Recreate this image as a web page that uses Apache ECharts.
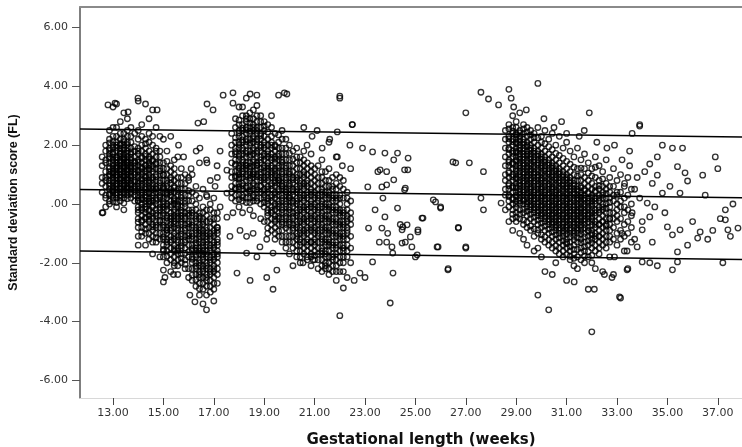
<!DOCTYPE html>
<html>
<head>
<meta charset="utf-8">
<script src="https://cdn.jsdelivr.net/npm/echarts@6/dist/echarts.min.js"></script>
<style>
html,body{margin:0;padding:0;background:#fff;}
#chart{width:742px;height:447px;}
</style>
</head>
<body>
<div id="chart"></div>
<script>
// Tick labels
const xTicks = [13, 15, 17, 19, 21, 23, 25, 27, 29, 31, 33, 35, 37];
const yTicks = [-6, -4, -2, 0, 2, 4, 6];

// Reference lines (mean and +/- 2 SD), endpoints at axis extremes
const lineUpper = [[11.69, 2.55], [37.96, 2.28]];
const lineMid = [[11.69, 0.49], [37.96, 0.21]];
const lineLower = [[11.69, -1.60], [37.96, -1.89]];

// Columns: [gestational week, [SD scores]]
const clusterA = [
  [12.57, [0.9, 1.3, 0.4, -0.3, 1.6, 0.7]],
  [12.71, [1.8, 1.1, 0.6, 0.2, 1.4, 2.0, 0.9, 0.3, 1.5, -0.1, 0.8]],
  [12.86, [2.2, 1.7, 1.2, 0.8, 0.5, 0.1, 1.0, 1.9, 1.4, 0.3, 0.7, 1.6, 2.5, 0.0, 1.1]],
  [13.00, [3.3, 2.3, 1.9, 1.5, 1.2, 0.9, 0.6, 0.3, 1.7, 1.0, 0.4, 1.3, 2.0, 0.8, 0.2, 1.6, 1.1, 0.5]],
  [13.14, [3.4, 2.6, 2.1, 1.8, 1.4, 1.1, 0.8, 0.5, 0.2, 1.6, 1.3, 0.9, 0.6, 2.0, 1.0, 0.3, 1.5, 1.2, 0.7, -0.1]],
  [13.29, [2.8, 2.2, 1.9, 1.6, 1.3, 1.0, 0.7, 0.4, 0.1, 1.8, 1.4, 1.1, 0.8, 0.5, 2.0, 1.2, 0.9, 0.6, 1.5, 0.3, 1.7]],
  [13.43, [3.1, 2.4, 2.0, 1.7, 1.4, 1.1, 0.8, 0.5, 0.2, 1.9, 1.5, 1.2, 0.9, 0.6, 2.2, 1.3, 1.0, 0.7, 1.6, 0.4, -0.2]],
  [13.57, [2.9, 2.3, 1.9, 1.6, 1.3, 1.0, 0.7, 0.4, 1.8, 1.4, 1.1, 0.8, 0.5, 2.1, 1.2, 0.9, 0.6, 1.5, 0.3]],
  [13.71, [2.6, 2.1, 1.7, 1.4, 1.1, 0.8, 0.5, 0.2, 1.5, 1.2, 0.9, 0.6, 1.9, 1.0, 0.4, 1.3, 0.7]],
  [13.86, [2.4, 1.8, 1.4, 1.0, 0.6, 0.3, 1.2, 0.8, 1.6, 0.1, 0.5, 1.3]]
];
const clusterB = [
  [14.00, [3.5, 2.5, 1.9, 1.5, 1.1, 0.7, 0.3, -0.1, -0.5, 1.3, 0.9, 0.5, 0.1, -0.3, 1.7, 0.6, 0.2, 1.0, -0.8]],
  [14.14, [2.7, 2.0, 1.6, 1.2, 0.8, 0.4, 0.0, -0.4, -0.8, 1.4, 1.0, 0.6, 0.2, -0.2, 1.8, 0.7, 0.3, -0.6, 1.1, -1.1]],
  [14.29, [3.4, 2.2, 1.7, 1.3, 0.9, 0.5, 0.1, -0.3, -0.7, 1.5, 1.1, 0.7, 0.3, -0.1, -0.5, 1.9, 0.8, 0.4, 0.0, -1.0, 1.2, -1.4]],
  [14.43, [2.9, 2.1, 1.6, 1.2, 0.8, 0.4, 0.0, -0.4, -0.8, 1.4, 1.0, 0.6, 0.2, -0.2, -0.6, 1.8, 0.9, 0.5, 0.1, -1.2, 1.3]],
  [14.57, [3.2, 2.0, 1.5, 1.1, 0.7, 0.3, -0.1, -0.5, -0.9, 1.3, 0.9, 0.5, 0.1, -0.3, -0.7, 1.7, 0.6, 0.2, -1.1, -1.7]],
  [14.71, [2.6, 1.8, 1.4, 1.0, 0.6, 0.2, -0.2, -0.6, -1.0, 1.2, 0.8, 0.4, 0.0, -0.4, 1.6, 0.5, -0.8, -1.3]],
  [14.86, [2.3, 1.6, 1.2, 0.8, 0.4, 0.0, -0.4, -0.8, 1.0, 0.6, 0.2, -0.2, -0.6, 1.4, 0.3, -1.2, -1.8]]
];
const clusterC = [
  [15.00, [2.2, 1.4, 1.0, 0.6, 0.2, -0.2, -0.6, -1.0, -1.4, -1.8, 1.2, 0.8, 0.4, 0.0, -0.4, -0.8, -1.2, 0.5, -0.1, -1.6]],
  [15.14, [1.8, 1.2, 0.8, 0.4, 0.0, -0.4, -0.8, -1.2, -1.6, -2.0, 1.0, 0.6, 0.2, -0.2, -0.6, -1.0, -1.4, 0.3, -0.9]],
  [15.29, [2.3, 1.3, 0.9, 0.5, 0.1, -0.3, -0.7, -1.1, -1.5, -1.9, 1.1, 0.7, 0.3, -0.1, -0.5, -0.9, -1.3, 0.4, -0.6, -2.3]],
  [15.43, [1.5, 1.0, 0.6, 0.2, -0.2, -0.6, -1.0, -1.4, -1.8, 0.8, 0.4, 0.0, -0.4, -0.8, -1.2, -1.6, 0.1, -0.5, -2.1]],
  [15.57, [1.6, 0.9, 0.5, 0.1, -0.3, -0.7, -1.1, -1.5, -1.9, 0.7, 0.3, -0.1, -0.5, -0.9, -1.3, -1.7, 0.0, -2.4]],
  [15.71, [1.2, 0.7, 0.3, -0.1, -0.5, -0.9, -1.3, -1.7, 0.5, 0.1, -0.3, -0.7, -1.1, -1.5, -2.0, -0.4]],
  [15.86, [1.0, 0.5, 0.1, -0.3, -0.7, -1.1, -1.5, -1.9, 0.3, -0.1, -0.5, -0.9, -1.3, -2.2]],
  [16.00, [0.8, 0.3, -0.2, -0.6, -1.0, -1.4, -1.8, 0.1, -0.4, -0.8, -1.2, -2.5]]
];
const clusterD = [
  [16.14, [1.0, 0.4, -0.2, -0.6, -1.0, -1.4, -1.8, -2.2, -0.8, -1.2, -1.6, -2.0, -0.4, -2.6, 0.1]],
  [16.29, [0.6, 0.0, -0.4, -0.8, -1.2, -1.6, -2.0, -2.4, -0.6, -1.0, -1.4, -1.8, -2.2, -2.8, -0.2, -1.5]],
  [16.43, [1.4, 0.2, -0.3, -0.7, -1.1, -1.5, -1.9, -2.3, -2.7, -0.9, -1.3, -1.7, -2.1, -2.5, -0.5, -3.1, -1.0]],
  [16.57, [0.5, -0.1, -0.5, -0.9, -1.3, -1.7, -2.1, -2.5, -0.7, -1.1, -1.5, -1.9, -2.3, -2.9, -0.3, -3.4, -1.6]],
  [16.71, [1.5, 0.3, -0.4, -0.8, -1.2, -1.6, -2.0, -2.4, -2.8, -1.0, -1.4, -1.8, -2.2, -0.6, -2.6, -3.6, -1.1]],
  [16.86, [0.8, 0.0, -0.6, -1.0, -1.4, -1.8, -2.2, -2.6, -0.8, -1.2, -1.6, -2.0, -2.4, -3.0, -0.2]],
  [17.00, [0.2, -0.5, -0.9, -1.3, -1.7, -2.1, -2.5, -1.1, -1.5, -1.9, -2.3, -2.9, -0.7, -3.3]],
  [17.14, [0.9, -0.3, -0.8, -1.2, -1.6, -2.0, -2.4, -1.0, -1.4, -1.8, -2.7, -0.5]]
];
const clusterE = [
  [17.71, [2.0, 1.4, 0.9, 0.4, 1.7, 1.1, 0.6, 2.4, 0.2]],
  [17.86, [2.6, 2.1, 1.7, 1.3, 0.9, 0.5, 0.1, 1.5, 1.1, 0.7, 1.9, 0.3, 2.9]],
  [18.00, [3.3, 2.7, 2.3, 1.9, 1.5, 1.1, 0.7, 0.3, 2.1, 1.7, 1.3, 0.9, 0.5, 2.5, 1.0, -0.1]],
  [18.14, [3.0, 2.5, 2.1, 1.7, 1.3, 0.9, 0.5, 0.1, 2.3, 1.9, 1.5, 1.1, 0.7, 2.7, 1.2, 0.3, -0.3]],
  [18.29, [3.6, 2.8, 2.4, 2.0, 1.6, 1.2, 0.8, 0.4, 2.6, 2.2, 1.8, 1.4, 1.0, 0.6, 3.0, 1.3, 0.2]],
  [18.43, [3.1, 2.6, 2.2, 1.8, 1.4, 1.0, 0.6, 0.2, 2.4, 2.0, 1.6, 1.2, 0.8, 2.9, 1.1, 0.4, -0.2]],
  [18.57, [2.9, 2.5, 2.1, 1.7, 1.3, 0.9, 0.5, 0.1, 2.3, 1.9, 1.5, 1.1, 0.7, 2.7, 1.0, 0.3, -0.4]],
  [18.71, [3.7, 3.0, 2.6, 2.2, 1.8, 1.4, 1.0, 0.6, 0.2, 2.4, 2.0, 1.6, 1.2, 0.8, 2.8, 1.3, 0.4]],
  [18.86, [3.0, 2.4, 2.0, 1.6, 1.2, 0.8, 0.4, 0.0, 2.2, 1.8, 1.4, 1.0, 0.6, 2.6, 0.9, -0.5]],
  [19.00, [2.8, 2.3, 1.9, 1.5, 1.1, 0.7, 0.3, -0.1, 2.1, 1.7, 1.3, 0.9, 0.5, 2.5, 0.2, -0.6]]
];
const clusterF = [
  [19.14, [2.7, 2.2, 1.8, 1.4, 1.0, 0.6, 0.2, -0.2, -0.6, 2.0, 1.6, 1.2, 0.8, 0.4, 0.0, -0.4, 1.1, -1.0]],
  [19.29, [3.0, 2.3, 1.9, 1.5, 1.1, 0.7, 0.3, -0.1, -0.5, 2.1, 1.7, 1.3, 0.9, 0.5, 0.1, -0.3, 1.0, -0.9]],
  [19.43, [2.4, 2.0, 1.6, 1.2, 0.8, 0.4, 0.0, -0.4, -0.8, 1.8, 1.4, 1.0, 0.6, 0.2, -0.2, -0.6, 0.9, -1.2]],
  [19.57, [3.7, 2.1, 1.7, 1.3, 0.9, 0.5, 0.1, -0.3, -0.7, 1.9, 1.5, 1.1, 0.7, 0.3, -0.1, -0.5, 0.8, -1.1]],
  [19.71, [2.5, 1.9, 1.5, 1.1, 0.7, 0.3, -0.1, -0.5, -0.9, 1.7, 1.3, 0.9, 0.5, 0.1, -0.3, -0.7, 0.6, -1.3]],
  [19.86, [2.2, 1.7, 1.3, 0.9, 0.5, 0.1, -0.3, -0.7, -1.1, 1.5, 1.1, 0.7, 0.3, -0.1, -0.5, 0.4, -1.5]],
  [20.00, [2.0, 1.5, 1.1, 0.7, 0.3, -0.1, -0.5, -0.9, -1.3, 1.3, 0.9, 0.5, 0.1, -0.3, -0.7, 0.2, -1.7]],
  [20.14, [1.8, 1.3, 0.9, 0.5, 0.1, -0.3, -0.7, -1.1, 1.1, 0.7, 0.3, -0.1, -0.5, -0.9, -1.5]]
];
const clusterG = [
  [20.29, [1.9, 1.4, 1.0, 0.6, 0.2, -0.2, -0.6, -1.0, -1.4, 1.2, 0.8, 0.4, 0.0, -0.4, -0.8, -1.2, -1.8]],
  [20.43, [1.6, 1.2, 0.8, 0.4, 0.0, -0.4, -0.8, -1.2, -1.6, 1.0, 0.6, 0.2, -0.2, -0.6, -1.0, -1.4, -2.0]],
  [20.57, [2.6, 1.5, 1.1, 0.7, 0.3, -0.1, -0.5, -0.9, -1.3, 1.3, 0.9, 0.5, 0.1, -0.3, -0.7, -1.1, -1.7]],
  [20.71, [1.4, 1.0, 0.6, 0.2, -0.2, -0.6, -1.0, -1.4, -1.8, 0.8, 0.4, 0.0, -0.4, -0.8, -1.2, -1.6]],
  [20.86, [1.7, 1.1, 0.7, 0.3, -0.1, -0.5, -0.9, -1.3, -1.7, 0.9, 0.5, 0.1, -0.3, -0.7, -1.1, -1.5, -2.1]],
  [21.00, [1.2, 0.8, 0.4, 0.0, -0.4, -0.8, -1.2, -1.6, 0.6, 0.2, -0.2, -0.6, -1.0, -1.4, -1.9]],
  [21.14, [1.3, 0.7, 0.3, -0.1, -0.5, -0.9, -1.3, -1.7, 0.5, 0.1, -0.3, -0.7, -1.1, -2.2]]
];
const clusterH = [
  [21.29, [1.5, 0.9, 0.5, 0.1, -0.3, -0.7, -1.1, -1.5, -1.9, 0.7, 0.3, -0.1, -0.5, -0.9, -1.3, -1.7, -2.3]],
  [21.43, [1.1, 0.6, 0.2, -0.2, -0.6, -1.0, -1.4, -1.8, -2.2, 0.4, 0.0, -0.4, -0.8, -1.2, -1.6, -2.0]],
  [21.57, [2.1, 0.8, 0.4, 0.0, -0.4, -0.8, -1.2, -1.6, -2.0, 0.6, 0.2, -0.2, -0.6, -1.0, -1.4, -2.4]],
  [21.71, [0.9, 0.5, 0.1, -0.3, -0.7, -1.1, -1.5, -1.9, 0.3, -0.1, -0.5, -0.9, -1.3, -1.7, -2.1]],
  [21.86, [1.6, 0.7, 0.3, -0.1, -0.5, -0.9, -1.3, -1.7, -2.1, 0.5, 0.1, -0.3, -0.7, -1.1, -1.5, -2.6]],
  [22.00, [3.6, 0.6, 0.2, -0.2, -0.6, -1.0, -1.4, -1.8, 0.0, -0.4, -0.8, -1.2, -2.0, -3.8]],
  [22.14, [0.8, 0.2, -0.2, -0.6, -1.0, -1.4, -1.8, -0.4, -0.8, -1.2, -1.6, -2.3]],
  [22.29, [0.4, 0.0, -0.4, -0.8, -1.2, -1.6, -0.2, -0.6, -1.0, -2.5]],
  [22.43, [1.2, 0.1, -0.3, -0.7, -1.1, -1.5, -2.0, -0.5]]
];
const clusterLate = [
  [28.57, [2.5, 1.9, 1.3, 0.8, 0.3, 1.6, 1.0, 0.5, 2.2, -0.2]],
  [28.71, [3.9, 2.7, 2.3, 1.9, 1.5, 1.1, 0.7, 0.3, -0.1, 2.1, 1.7, 1.3, 0.9, 0.5, 0.1, -0.6]],
  [28.86, [3.0, 2.6, 2.2, 1.8, 1.4, 1.0, 0.6, 0.2, -0.2, 2.4, 2.0, 1.6, 1.2, 0.8, 0.4, 0.0, -0.5, -0.9]],
  [29.00, [2.8, 2.4, 2.1, 1.8, 1.5, 1.2, 0.9, 0.6, 0.3, 0.0, -0.3, 2.6, 2.2, 1.9, 1.6, 1.3, 1.0, 0.7, 0.4, 0.1, -0.6]],
  [29.14, [3.1, 2.5, 2.2, 1.9, 1.6, 1.3, 1.0, 0.7, 0.4, 0.1, -0.2, 2.3, 2.0, 1.7, 1.4, 1.1, 0.8, 0.5, 0.2, -0.5, -1.0]],
  [29.29, [2.7, 2.4, 2.1, 1.8, 1.5, 1.2, 0.9, 0.6, 0.3, 0.0, -0.3, -0.7, 2.2, 1.9, 1.6, 1.3, 1.0, 0.7, 0.4, 0.1, -1.2]],
  [29.43, [2.6, 2.3, 2.0, 1.7, 1.4, 1.1, 0.8, 0.5, 0.2, -0.1, -0.4, 2.1, 1.8, 1.5, 1.2, 0.9, 0.6, 0.3, 0.0, -0.8, -1.4]],
  [29.57, [2.5, 2.2, 1.9, 1.6, 1.3, 1.0, 0.7, 0.4, 0.1, -0.2, -0.5, 2.0, 1.7, 1.4, 1.1, 0.8, 0.5, 0.2, -0.1, -0.9]],
  [29.71, [2.4, 2.1, 1.8, 1.5, 1.2, 0.9, 0.6, 0.3, 0.0, -0.3, -0.6, 1.9, 1.6, 1.3, 1.0, 0.7, 0.4, 0.1, -0.2, -1.1, -1.6]],
  [29.86, [4.1, 2.6, 2.0, 1.7, 1.4, 1.1, 0.8, 0.5, 0.2, -0.1, -0.4, -0.7, 1.8, 1.5, 1.2, 0.9, 0.6, 0.3, 0.0, -0.3, -1.0, -1.5, -3.1]],
  [30.00, [2.3, 1.9, 1.6, 1.3, 1.0, 0.7, 0.4, 0.1, -0.2, -0.5, -0.8, 1.7, 1.4, 1.1, 0.8, 0.5, 0.2, -0.1, -0.4, -1.2, -1.8]],
  [30.14, [2.5, 1.8, 1.5, 1.2, 0.9, 0.6, 0.3, 0.0, -0.3, -0.6, -0.9, 1.6, 1.3, 1.0, 0.7, 0.4, 0.1, -0.2, -0.5, -1.3, -2.3]],
  [30.29, [2.2, 1.7, 1.4, 1.1, 0.8, 0.5, 0.2, -0.1, -0.4, -0.7, -1.0, 1.5, 1.2, 0.9, 0.6, 0.3, 0.0, -0.3, -0.6, -1.4, -3.6]],
  [30.43, [2.4, 1.6, 1.3, 1.0, 0.7, 0.4, 0.1, -0.2, -0.5, -0.8, -1.1, 1.4, 1.1, 0.8, 0.5, 0.2, -0.1, -0.4, -0.7, -1.5, -2.4]],
  [30.57, [2.0, 1.5, 1.2, 0.9, 0.6, 0.3, 0.0, -0.3, -0.6, -0.9, -1.2, 1.3, 1.0, 0.7, 0.4, 0.1, -0.2, -0.5, -0.8, -1.6, -2.0]],
  [30.71, [2.3, 1.4, 1.1, 0.8, 0.5, 0.2, -0.1, -0.4, -0.7, -1.0, -1.3, 1.2, 0.9, 0.6, 0.3, 0.0, -0.3, -0.6, -0.9, -1.7]],
  [30.86, [1.9, 1.3, 1.0, 0.7, 0.4, 0.1, -0.2, -0.5, -0.8, -1.1, -1.4, 1.1, 0.8, 0.5, 0.2, -0.1, -0.4, -0.7, -1.0, -1.8]],
  [31.00, [2.1, 1.2, 0.9, 0.6, 0.3, 0.0, -0.3, -0.6, -0.9, -1.2, -1.5, 1.0, 0.7, 0.4, 0.1, -0.2, -0.5, -0.8, -1.3, -2.6]],
  [31.14, [1.8, 1.1, 0.8, 0.5, 0.2, -0.1, -0.4, -0.7, -1.0, -1.3, -1.6, 0.9, 0.6, 0.3, 0.0, -0.3, -0.6, -0.9, -1.9]],
  [31.29, [1.6, 1.0, 0.7, 0.4, 0.1, -0.2, -0.5, -0.8, -1.1, -1.4, -1.7, 0.8, 0.5, 0.2, -0.1, -0.4, -0.7, -1.0, -2.1]],
  [31.43, [1.9, 1.2, 0.8, 0.5, 0.2, -0.1, -0.4, -0.7, -1.0, -1.3, -1.8, 0.6, 0.3, 0.0, -0.3, -0.6, -0.9, -2.2]],
  [31.57, [1.5, 1.0, 0.6, 0.3, 0.0, -0.3, -0.6, -0.9, -1.2, -1.5, 0.8, 0.4, 0.1, -0.2, -0.5, -0.8, -1.9]],
  [31.71, [1.7, 0.9, 0.5, 0.2, -0.1, -0.4, -0.7, -1.0, -1.3, -1.6, 0.7, 0.3, 0.0, -0.3, -0.6, -2.0]],
  [31.86, [1.4, 0.8, 0.4, 0.1, -0.2, -0.5, -0.8, -1.1, -1.4, 0.6, 0.2, -0.1, -0.4, -0.9, -1.8, -2.9]],
  [32.00, [1.2, 0.7, 0.3, 0.0, -0.3, -0.6, -0.9, -1.2, -1.5, 0.5, 0.1, -0.2, -0.5, -1.0, -2.0, -4.35]],
  [32.14, [1.6, 0.9, 0.4, 0.0, -0.4, -0.8, -1.2, -1.6, 0.6, 0.2, -0.2, -0.6, -1.0, -2.2]],
  [32.29, [1.3, 0.8, 0.3, -0.1, -0.5, -0.9, -1.3, 0.5, 0.1, -0.3, -0.7, -1.1, -1.7]],
  [32.43, [1.1, 0.6, 0.2, -0.2, -0.6, -1.0, -1.4, 0.4, 0.0, -0.4, -0.8, -2.3]],
  [32.57, [1.5, 0.7, 0.2, -0.3, -0.7, -1.1, 0.5, 0.0, -0.5, -0.9, -1.5]],
  [32.71, [0.9, 0.4, -0.1, -0.5, -0.9, -1.3, 0.2, -0.3, -0.7, -1.8]],
  [32.86, [1.2, 0.6, 0.1, -0.3, -0.8, -1.2, 0.3, -0.5, -2.4]],
  [33.00, [0.8, 0.3, -0.2, -0.6, -1.0, 0.0, -0.4, -1.4]],
  [33.14, [1.0, 0.4, -0.1, -0.5, -0.9, 0.1, -1.2, -3.2]],
  [33.29, [0.6, 0.2, -0.3, -0.7, -1.1, -0.1, -1.6]],
  [33.43, [0.9, 0.3, -0.2, -0.6, -1.0, -2.2]],
  [33.57, [0.5, 0.0, -0.4, -0.8, -1.3]]
];

// Extra points inside the dense cores: [gestational week, [SD scores]]
const coreEarly = [
  [12.86, [0.35, 0.62, 0.95, 1.27, 1.55, 1.82, 2.08]],
  [13.00, [0.08, 0.45, 0.72, 1.05, 1.38, 1.76, 2.12, 2.6]],
  [13.14, [0.05, 0.38, 0.67, 0.98, 1.24, 1.57, 1.92, 2.3]],
  [13.29, [0.22, 0.52, 0.85, 1.17, 1.45, 1.72, 2.05, 2.4]],
  [13.43, [0.03, 0.32, 0.63, 0.95, 1.25, 1.55, 1.83, 2.12]],
  [13.57, [0.18, 0.55, 0.83, 1.16, 1.43, 1.72, 2.02, 2.5]],
  [13.71, [0.33, 0.66, 0.95, 1.25, 1.58, 1.77, 2.3]],
  [13.86, [0.42, 0.74, 1.08, 1.45, 1.95]],
  [14.00, [-0.62, -0.2, 0.12, 0.42, 0.78, 1.15, 1.42, 1.8, 2.2]],
  [14.14, [-0.95, -0.55, -0.12, 0.15, 0.48, 0.86, 1.25, 1.55, 2.3]],
  [14.29, [-0.85, -0.45, -0.18, 0.22, 0.58, 0.95, 1.33, 1.62, 2.05]],
  [14.43, [-1.0, -0.52, -0.25, 0.08, 0.35, 0.72, 1.15, 1.52, 2.4]],
  [14.57, [-1.3, -0.78, -0.42, -0.05, 0.38, 0.82, 1.2, 1.45, 2.3]],
  [14.71, [-1.15, -0.72, -0.32, 0.12, 0.52, 0.92, 1.35, 1.9]],
  [14.86, [-1.0, -0.55, -0.12, 0.25, 0.72, 1.12, 1.8]],
  [15.00, [-1.55, -1.12, -0.72, -0.32, 0.08, 0.55, 0.98]],
  [15.14, [-1.78, -1.3, -0.88, -0.48, -0.08, 0.35, 0.7, 1.45]],
  [15.29, [-1.7, -1.22, -0.82, -0.42, -0.02, 0.42, 0.82]],
  [15.43, [-2.0, -1.52, -1.1, -0.68, -0.28, 0.15, 0.55, 1.2]],
  [15.57, [-2.1, -1.6, -1.22, -0.82, -0.42, -0.05, 0.42]],
  [15.71, [-1.85, -1.42, -1.02, -0.62, -0.22, 0.22, 0.9]],
  [15.86, [-2.05, -1.68, -1.22, -0.82, -0.42, 0.02, 0.7]],
  [16.00, [-2.2, -1.62, -1.08, -0.68, -0.32, 0.45]],
  [16.14, [-2.42, -1.88, -1.52, -1.1, -0.72, -0.3]],
  [16.29, [-2.58, -2.12, -1.72, -1.32, -0.9, -0.5, 0.3]],
  [16.43, [-2.88, -2.4, -2.0, -1.6, -1.2, -0.8, -0.42]],
  [16.57, [-2.7, -2.2, -1.8, -1.4, -1.0, -0.6]],
  [16.71, [-3.1, -2.5, -2.1, -1.7, -1.3, -0.9, -0.2]],
  [16.86, [-2.8, -2.3, -1.9, -1.5, -1.1, -0.5]],
  [17.00, [-2.7, -2.2, -1.8, -1.4, -1.0, -0.3]],
  [17.14, [-2.2, -1.7, -1.3, -0.9]]
];
const coreMid = [
  [17.86, [0.55, 0.95, 1.35, 1.78, 2.25]],
  [18.00, [0.15, 0.58, 0.85, 1.22, 1.62, 2.02, 2.42, 2.85]],
  [18.14, [0.22, 0.62, 1.02, 1.42, 1.82, 2.18, 2.58, 3.3]],
  [18.29, [0.05, 0.55, 0.92, 1.32, 1.72, 2.12, 2.52, 2.9]],
  [18.43, [0.05, 0.45, 0.88, 1.28, 1.68, 2.08, 2.48, 2.75]],
  [18.57, [0.22, 0.62, 1.02, 1.42, 1.82, 2.22, 2.6, 3.2]],
  [18.71, [0.1, 0.48, 0.92, 1.32, 1.72, 2.12, 2.5, 3.35]],
  [18.86, [0.2, 0.62, 1.08, 1.5, 1.92, 2.32, 2.8]],
  [19.00, [0.05, 0.42, 0.82, 1.22, 1.62, 2.0, 2.65]],
  [19.14, [-0.82, -0.3, 0.1, 0.5, 0.9, 1.3, 1.7, 2.45]],
  [19.29, [-0.7, -0.22, 0.22, 0.62, 1.22, 1.58, 2.0, 2.6]],
  [19.43, [-1.0, -0.52, -0.08, 0.32, 0.72, 1.12, 1.52, 1.95]],
  [19.57, [-0.92, -0.42, 0.0, 0.42, 0.82, 1.22, 1.62, 2.35]],
  [19.71, [-1.1, -0.62, -0.2, 0.2, 0.62, 1.02, 1.42, 2.2]],
  [19.86, [-1.3, -0.82, -0.42, 0.0, 0.42, 0.82, 1.22, 1.9]],
  [20.00, [-1.1, -0.62, -0.2, 0.22, 0.62, 1.02, 1.72]],
  [20.14, [-1.3, -0.82, -0.42, 0.02, 0.42, 0.82, 1.52]],
  [20.29, [-1.6, -1.1, -0.7, -0.3, 0.1, 0.5, 0.9, 1.6]],
  [20.43, [-1.8, -1.3, -0.9, -0.5, -0.1, 0.3, 0.7, 1.4]],
  [20.57, [-1.5, -1.0, -0.6, -0.2, 0.2, 0.6, 1.0, 1.8]],
  [20.71, [-1.9, -1.3, -0.9, -0.5, -0.1, 0.3, 0.7, 1.2]],
  [20.86, [-1.8, -1.3, -0.8, -0.4, 0.0, 0.4, 1.3]],
  [21.00, [-1.75, -1.3, -0.9, -0.5, -0.1, 0.3, 1.0]],
  [21.14, [-1.9, -1.5, -1.0, -0.6, -0.2, 0.2, 0.9]],
  [21.29, [-2.1, -1.6, -1.2, -0.8, -0.4, 0.0, 0.4, 1.1]],
  [21.43, [-2.1, -1.7, -1.3, -0.9, -0.5, -0.1, 0.3, 0.8]],
  [21.57, [-2.2, -1.8, -1.3, -0.9, -0.5, -0.1, 0.3, 1.2]],
  [21.71, [-2.3, -1.8, -1.4, -1.0, -0.6, -0.2, 0.2, 0.6]],
  [21.86, [-2.3, -1.9, -1.4, -1.0, -0.6, -0.2, 0.2, 1.0]],
  [22.00, [-2.3, -1.6, -1.1, -0.7, -0.3, 0.3, 0.9]],
  [22.14, [-2.0, -1.5, -1.1, -0.7, -0.3, 0.5]],
  [22.29, [-1.8, -1.4, -0.9, -0.5, 0.2]]
];
const coreLate = [
  [28.71, [0.25, 0.62, 1.05, 1.42, 1.85, 2.22, 2.55]],
  [28.86, [-0.35, 0.15, 0.55, 0.92, 1.35, 1.72, 2.12, 2.48]],
  [29.00, [-0.45, -0.12, 0.25, 0.55, 0.85, 1.12, 1.45, 1.75, 2.05, 2.35]],
  [29.14, [-0.35, 0.02, 0.32, 0.62, 0.92, 1.22, 1.52, 1.82, 2.12, 2.42]],
  [29.29, [-0.55, -0.18, 0.15, 0.48, 0.78, 1.08, 1.38, 1.7, 2.02, 2.55]],
  [29.43, [-0.62, -0.25, 0.08, 0.38, 0.68, 0.98, 1.28, 1.62, 1.95, 2.45]],
  [29.57, [-0.75, -0.35, -0.02, 0.28, 0.58, 0.88, 1.18, 1.52, 1.82, 2.35]],
  [29.71, [-0.85, -0.45, -0.12, 0.18, 0.48, 0.78, 1.08, 1.42, 1.72, 2.25]],
  [29.86, [-0.88, -0.55, -0.22, 0.08, 0.38, 0.68, 0.98, 1.32, 1.62, 2.25]],
  [30.00, [-1.05, -0.65, -0.32, -0.02, 0.28, 0.58, 0.88, 1.22, 1.52, 2.1]],
  [30.14, [-1.12, -0.75, -0.42, -0.12, 0.18, 0.48, 0.78, 1.12, 1.42, 2.05]],
  [30.29, [-1.22, -0.85, -0.52, -0.22, 0.08, 0.38, 0.68, 1.02, 1.32, 1.95]],
  [30.43, [-1.3, -0.95, -0.62, -0.32, -0.02, 0.28, 0.58, 0.92, 1.22, 1.85]],
  [30.57, [-1.42, -1.05, -0.72, -0.42, -0.12, 0.18, 0.48, 0.82, 1.12, 1.72]],
  [30.71, [-1.5, -1.15, -0.82, -0.52, -0.22, 0.08, 0.38, 0.72, 1.02, 1.65]],
  [30.86, [-1.6, -1.25, -0.92, -0.62, -0.32, -0.02, 0.28, 0.62, 0.92, 1.55]],
  [31.00, [-1.72, -1.35, -1.02, -0.72, -0.42, -0.12, 0.18, 0.52, 0.82, 1.45]],
  [31.14, [-1.78, -1.45, -1.12, -0.82, -0.52, -0.22, 0.08, 0.42, 0.72, 1.35]],
  [31.29, [-1.85, -1.55, -1.22, -0.92, -0.62, -0.32, -0.02, 0.32, 0.62, 1.25]],
  [31.43, [-1.55, -1.15, -0.82, -0.52, -0.22, 0.12, 0.42, 0.95]],
  [31.57, [-1.65, -1.32, -1.02, -0.72, -0.42, -0.12, 0.22, 0.55, 1.22]],
  [31.71, [-1.78, -1.45, -1.12, -0.82, -0.52, -0.22, 0.12, 0.45, 1.2]],
  [31.86, [-1.62, -1.25, -0.92, -0.62, -0.32, 0.02, 0.35, 1.05]],
  [32.00, [-1.75, -1.32, -1.05, -0.72, -0.42, -0.08, 0.22, 0.95]],
  [32.14, [-1.4, -1.1, -0.7, -0.3, 0.1, 0.45, 1.25]],
  [32.29, [-1.5, -1.1, -0.7, -0.2, 0.2, 0.62]],
  [32.43, [-1.2, -0.6, -0.1, 0.3, 0.85]],
  [32.57, [-1.3, -0.75, -0.15, 0.35]],
  [32.71, [-1.1, -0.5, 0.05, 0.6]]
];

// Scattered individual points: [week, SD score]
const scatterEarly = [
  [13.99, 3.6], [13.08, 3.43], [12.8, 3.37], [14.75, 3.2], [13.6, 3.13],
  [12.6, -0.3], [14.0, -1.1], [14.0, -1.4], [15.06, -2.5], [15.0, -2.25], [15.4, -2.4],
  [15.0, -2.65], [16.05, -3.1], [16.25, -3.33],
  [15.8, 1.6], [16.1, 1.2], [16.3, 1.8], [16.0, 0.9], [15.6, 2.0],
  [16.73, 3.4], [16.97, 3.2], [16.37, 2.75], [16.6, 2.8], [16.45, 1.9], [17.25, 1.8],
  [17.13, 1.3], [17.52, 1.15], [16.73, 1.4], [17.05, 0.6], [16.73, 0.25], [17.52, 0.37],
  [17.25, -0.1], [17.52, -0.45], [17.13, -0.8], [17.76, -0.3], [18.04, -0.9], [17.64, -1.1],
  [18.3, -1.1], [18.56, -1.0], [18.83, -1.46], [19.1, -1.2], [19.35, -1.67], [18.71, -1.8],
  [18.3, -1.67], [17.92, -2.35], [18.44, -2.6], [19.1, -2.5], [19.5, -2.25], [19.35, -2.9],
  [20.14, -2.1], [20.54, -2.0], [20.94, -1.9], [17.37, 3.7], [17.76, 3.78], [18.44, 3.74],
  [19.9, 3.74], [22.0, 3.67], [22.5, 2.7], [21.9, 2.45], [17.76, 3.43], [19.8, 3.78],
  [20.9, 2.3], [21.3, 1.9], [21.6, 2.2], [21.9, 1.6], [22.1, 1.3], [20.7, 2.0], [21.1, 2.5]
];
const scatterMiddle = [
  [23.11, 0.58], [23.67, 0.58], [23.86, 0.65], [24.57, 0.48], [23.79, 1.73], [24.29, 1.73],
  [24.71, 1.56], [24.14, 1.5], [24.57, 1.16], [23.86, 1.1], [23.51, 1.1], [24.14, 0.82],
  [23.71, 0.2], [24.29, -0.14], [23.79, -0.44], [23.4, -0.2], [23.14, -0.82], [23.67, -0.82],
  [23.86, -1.3], [23.57, -1.3], [24.07, -1.46], [24.47, -1.33], [24.86, -1.46], [24.47, -0.88],
  [24.67, -0.71], [25.1, -0.88], [25.26, -0.48], [25.71, 0.14], [26.0, -0.14], [25.86, -1.46],
  [26.71, -0.82], [27.0, -1.46], [26.29, -2.24], [25.07, -1.73], [24.11, -2.35], [23.0, -2.5],
  [22.57, -2.6], [22.14, -2.86], [24.0, -3.37], [26.49, 1.43], [27.14, 1.4], [27.0, 3.1],
  [22.49, 2.7], [22.4, 2.0], [22.9, 1.9], [23.3, 1.77], [23.6, 1.16], [22.8, -2.35],
  [23.3, -1.97], [24.5, -0.78], [23.9, -1.0], [24.1, -1.67],
  [24.7, 1.16], [24.6, 0.54], [26.6, 1.4], [26.0, -0.1], [25.8, 0.07], [25.3, -0.48],
  [26.7, -0.8], [25.9, -1.46], [25.1, -0.95], [24.8, -1.12], [25.0, -1.8], [26.3, -2.2],
  [27.0, -1.5], [27.7, 1.1], [28.4, 0.03], [27.7, -0.2], [27.6, 0.2], [24.4, -0.7], [24.6, -1.3],
  [27.6, 3.8], [27.9, 3.57], [28.3, 3.37], [28.8, 3.6]
];
const scatterLate = [
  [31.9, 3.1], [31.3, -2.65], [32.1, -2.9], [30.5, 2.6], [31.0, 2.4], [31.5, 2.3], [30.8, 2.8],
  [31.7, 2.5], [32.2, 2.1], [32.6, 1.9], [30.1, 2.9], [29.4, 3.2], [28.9, 3.3],
  [33.9, 2.65], [33.6, 2.4], [34.8, 2.0], [35.2, 1.9], [35.6, 1.9], [35.4, 1.27], [35.7, 1.06],
  [35.8, 0.78], [37.0, 1.2], [36.4, 0.98], [34.6, 1.6], [34.3, 1.36], [34.6, 0.98], [35.5, 0.37],
  [34.8, 0.37], [37.3, -0.2], [37.3, -0.54], [37.5, -1.1], [37.4, -0.88], [37.8, -0.82],
  [36.3, -0.95], [36.6, -1.2], [36.2, -1.16], [35.5, -0.88], [35.2, -1.05], [35.0, -0.78],
  [35.4, -1.63], [35.4, -1.97], [35.2, -2.24], [37.2, -2.0], [34.6, -2.1], [34.3, -2.0],
  [34.0, -1.97], [33.4, -2.24], [33.1, -3.16], [32.8, -2.5], [32.5, -2.4], [34.3, -0.44],
  [34.2, 0.03], [34.0, -0.88], [33.8, -1.46], [33.2, -1.0], [34.5, -0.1],
  [33.5, 1.3], [33.8, 0.9], [34.1, 1.1], [33.7, 0.5], [33.9, 0.2], [34.4, 0.7], [33.6, -0.3],
  [34.0, -0.6], [33.7, -1.2], [34.9, -0.3], [35.1, 0.6], [36.0, -0.6], [36.8, -0.9],
  [37.6, 0.0], [36.9, 1.6], [34.4, -1.3], [35.8, -1.4], [36.5, 0.3], [37.1, -0.5],
  [33.5, 1.8], [33.2, 1.5], [32.9, 2.0], [33.3, 0.7], [33.0, 0.4], [32.9, -1.8], [33.4, -1.6],
  [33.9, 2.7]
];

// Build point list from the named arrays
const points = [];
[clusterA, clusterB, clusterC, clusterD, clusterE, clusterF, clusterG, clusterH, clusterLate,
 coreEarly, coreMid, coreLate]
  .forEach(cols => cols.forEach(([x, ys]) => ys.forEach(y => points.push([x, y]))));
[scatterEarly, scatterMiddle, scatterLate].forEach(list => list.forEach(p => points.push(p)));

const chart = echarts.init(document.getElementById('chart'), null, { renderer: 'canvas' });
const fmt = v => (v === 0 ? '.00' : v.toFixed(2));

chart.setOption({
  animation: false,
  backgroundColor: '#ffffff',
  grid: { left: 80, right: 0, top: 7, bottom: 49, containLabel: false, outerBoundsMode: 'none' },
  xAxis: [{
    type: 'value',
    min: 11.69,
    max: 37.96,
    name: 'Gestational length (weeks)',
    nameLocation: 'middle',
    nameGap: 35,
    nameTextStyle: { fontFamily: 'DejaVu Sans', fontWeight: 'bold', fontSize: 15, color: '#111', padding: [0, 0, 0, 20] },
    axisLine: { show: true, onZero: false, lineStyle: { color: '#d8d8d8', width: 1 } },
    axisTick: { show: true, customValues: xTicks, length: 7, lineStyle: { color: '#444' } },
    axisLabel: { show: true, customValues: xTicks, margin: 10, formatter: fmt, fontFamily: 'DejaVu Sans', fontSize: 11, color: '#333' },
    splitLine: { show: false }
  }, {
    type: 'value',
    position: 'top',
    min: 11.69,
    max: 37.96,
    axisLine: { show: true, onZero: false, lineStyle: { color: '#8a8a8a', width: 2 } },
    axisTick: { show: false },
    axisLabel: { show: false },
    splitLine: { show: false }
  }],
  yAxis: {
    type: 'value',
    min: -6.6,
    max: 6.7,
    name: 'Standard deviation score (FL)',
    nameLocation: 'middle',
    nameGap: 60,
    nameTextStyle: { fontFamily: 'Liberation Sans', fontWeight: 'bold', fontSize: 12.5, color: '#111' },
    axisLine: { show: true, onZero: false, lineStyle: { color: '#555', width: 1.5 } },
    axisTick: { show: true, customValues: yTicks, length: 8, lineStyle: { color: '#555' } },
    axisLabel: { show: true, customValues: yTicks, margin: 12, formatter: fmt, fontFamily: 'DejaVu Sans', fontSize: 11, color: '#333' },
    splitLine: { show: false }
  },
  series: [{
    type: 'scatter',
    data: points,
    symbol: 'circle',
    symbolSize: 5.5,
    silent: true,
    large: false,
    progressive: 0,
    itemStyle: { color: 'rgba(0,0,0,0)', borderColor: '#000', borderWidth: 1.35 }
  }, {
    type: 'line', data: lineUpper, symbol: 'none', silent: true,
    lineStyle: { color: '#000', width: 1.4 }
  }, {
    type: 'line', data: lineMid, symbol: 'none', silent: true,
    lineStyle: { color: '#000', width: 1.4 }
  }, {
    type: 'line', data: lineLower, symbol: 'none', silent: true,
    lineStyle: { color: '#000', width: 1.4 }
  }]
});
</script>
</body>
</html>
